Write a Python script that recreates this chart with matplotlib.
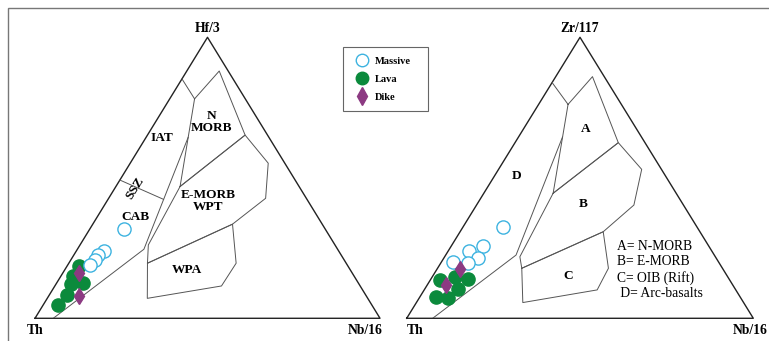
import matplotlib.pyplot as plt
from matplotlib.lines import Line2D
from matplotlib.patches import Rectangle

plt.rcParams['font.family'] = ['Liberation Serif', 'DejaVu Serif']

# ---- samples, ternary fractions (Th, Hf/3, Nb/16) ----
massive_hf = [(0.583, 0.317, 0.100), (0.680, 0.240, 0.080), (0.703, 0.227, 0.070),
              (0.721, 0.209, 0.070), (0.747, 0.190, 0.063)]
lava_hf = [(0.778, 0.187, 0.035), (0.813, 0.151, 0.036), (0.835, 0.122, 0.043),
           (0.799, 0.124, 0.077), (0.867, 0.083, 0.050), (0.908, 0.049, 0.043)]
dike_hf = [(0.793, 0.160, 0.047), (0.832, 0.081, 0.087)]

# ---- samples, ternary fractions (Th, Zr/117, Nb/16) ----
massive_zr = [(0.559, 0.325, 0.116), (0.651, 0.257, 0.092), (0.700, 0.240, 0.061),
              (0.686, 0.215, 0.099), (0.725, 0.197, 0.078), (0.766, 0.200, 0.034)]
lava_zr = [(0.835, 0.138, 0.027), (0.787, 0.148, 0.065), (0.752, 0.140, 0.108),
           (0.800, 0.104, 0.096), (0.879, 0.074, 0.047), (0.844, 0.072, 0.084)]
dike_zr = [(0.758, 0.176, 0.066), (0.827, 0.120, 0.053)]

# ---- field boundaries (Wood 1980), Th-Hf/3-Nb/16 ----
fields_hf = [
    [(0.148, 0.852, 0.0), (0.147, 0.781, 0.072)],
    [(0.147, 0.781, 0.072), (0.026, 0.880, 0.094), (0.065, 0.652, 0.283),
     (0.345, 0.469, 0.186), (0.147, 0.781, 0.072)],
    [(0.345, 0.469, 0.186), (0.065, 0.652, 0.283), (0.048, 0.552, 0.400),
     (0.118, 0.427, 0.455), (0.260, 0.335, 0.405), (0.576, 0.196, 0.228),
     (0.541, 0.261, 0.198), (0.345, 0.469, 0.186)],
    [(0.576, 0.196, 0.228), (0.260, 0.335, 0.405), (0.319, 0.196, 0.485),
     (0.402, 0.115, 0.483), (0.639, 0.071, 0.290), (0.576, 0.196, 0.228)],
    [(0.947, 0.0, 0.053), (0.562, 0.246, 0.193), (0.234, 0.644, 0.122)],
    [(0.508, 0.492, 0.0), (0.416, 0.4235, 0.161)],
]

# ---- field boundaries, Th-Zr/117-Nb/16 ----
fields_zr = [
    [(0.161, 0.839, 0.0), (0.154, 0.762, 0.085)],
    [(0.154, 0.762, 0.085), (0.034, 0.860, 0.106), (0.077, 0.625, 0.298),
     (0.355, 0.445, 0.200), (0.154, 0.762, 0.085)],
    [(0.355, 0.445, 0.200), (0.077, 0.625, 0.298), (0.057, 0.530, 0.413),
     (0.143, 0.403, 0.454), (0.279, 0.308, 0.413), (0.579, 0.178, 0.243),
     (0.564, 0.219, 0.217), (0.355, 0.445, 0.200)],
    [(0.579, 0.178, 0.243), (0.279, 0.308, 0.413), (0.329, 0.178, 0.493),
     (0.400, 0.101, 0.499), (0.637, 0.056, 0.307), (0.579, 0.178, 0.243)],
    [(0.925, 0.0, 0.075), (0.572, 0.225, 0.203), (0.228, 0.645, 0.127)],
]

key_text = "A= N-MORB\nB= E-MORB\nC= OIB (Rift)\n D= Arc-basalts"

C_MASSIVE = '#3db3e0'
C_LAVA = '#0b8a3c'
C_DIKE = '#8c3a82'


def to_xy(pts):
    xs, ys = [], []
    for a, b, c in pts:
        s = a + b + c
        xs.append((c + b / 2) / s)
        ys.append(b / s)
    return xs, ys


def draw_diagram(ax, fields, massive, lava, dike, top, left, right):
    ax.set_xlim(0, 1)
    ax.set_ylim(0, 1)
    ax.axis('off')
    ax.plot([0, 1, 0.5, 0], [0, 0, 1, 0], color='#222222', lw=1.0, clip_on=False)
    for f in fields:
        x, y = to_xy(f)
        ax.plot(x, y, color='#555555', lw=0.7)
    x, y = to_xy(lava)
    ax.plot(x, y, 'o', ms=9.5, color=C_LAVA, mec=C_LAVA, clip_on=False)
    x, y = to_xy(massive)
    ax.plot(x, y, 'o', ms=9.5, mfc='white', mec=C_MASSIVE, mew=1.0, clip_on=False)
    x, y = to_xy(dike)
    ax.plot(x, y, 'd', ms=8, color=C_DIKE, clip_on=False)
    lab = dict(fontsize=9.8, fontweight='bold', ha='center', va='center')
    ax.text(0.5, 1.03, top, **lab)
    ax.text(left, -0.042, 'Th', **lab)
    ax.text(right, -0.042, 'Nb/16', **lab)


fig = plt.figure(figsize=(7.69, 3.41), dpi=100)
ax1 = fig.add_axes([35 / 769, 0.0666, 345 / 769, 0.824])
ax2 = fig.add_axes([406.7 / 769, 0.0666, 346.6 / 769, 0.824])

draw_diagram(ax1, fields_hf, massive_hf, lava_hf, dike_hf, 'Hf/3', 0.0, 0.957)
draw_diagram(ax2, fields_zr, massive_zr, lava_zr, dike_zr, 'Zr/117', 0.024, 0.99)

fl = dict(fontsize=9.6, fontweight='bold', ha='center', va='center')
ax1.text(0.513, 0.697, 'N\nMORB', linespacing=1.0, **fl)
ax1.text(0.367, 0.641, 'IAT', **fl)
ax1.text(0.29, 0.463, 'SSZ', rotation=58, **fl)
ax1.text(0.29, 0.359, 'CAB', **fl)
ax1.text(0.502, 0.417, 'E-MORB\nWPT', linespacing=1.05, **fl)
ax1.text(0.44, 0.172, 'WPA', **fl)

ax2.text(0.516, 0.674, 'A', **fl)
ax2.text(0.317, 0.507, 'D', **fl)
ax2.text(0.51, 0.407, 'B', **fl)
ax2.text(0.466, 0.151, 'C', **fl)
ax2.text(0.607, 0.172, key_text, fontsize=9.8, ha='left', va='center', linespacing=1.22)

handles = [
    Line2D([], [], ls='', marker='o', ms=9, mfc='white', mec=C_MASSIVE, mew=1.0),
    Line2D([], [], ls='', marker='o', ms=9, color=C_LAVA),
    Line2D([], [], ls='', marker='d', ms=9, color=C_DIKE),
]
leg = fig.legend(handles, ['Massive', 'Lava', 'Dike'], loc='upper left',
                 bbox_to_anchor=(343 / 769, 1 - 47 / 341 - 0.01, 85 / 769, 0.01), mode='expand',
                 prop={'size': 7.5, 'weight': 'bold'}, frameon=True, fancybox=False,
                 edgecolor='#666666', framealpha=1, borderpad=0.9, labelspacing=0.85,
                 handlelength=1.8, handletextpad=0.4, borderaxespad=0)
leg.get_frame().set_linewidth(0.8)

# outer frame of the figure panel
fig.add_artist(Rectangle((7.5 / 769, -0.5), 2, (341 - 8.3) / 341 + 0.5,
                         transform=fig.transFigure, fill=False, ec='#777777', lw=1.0))

plt.savefig('out.png', dpi=100)
